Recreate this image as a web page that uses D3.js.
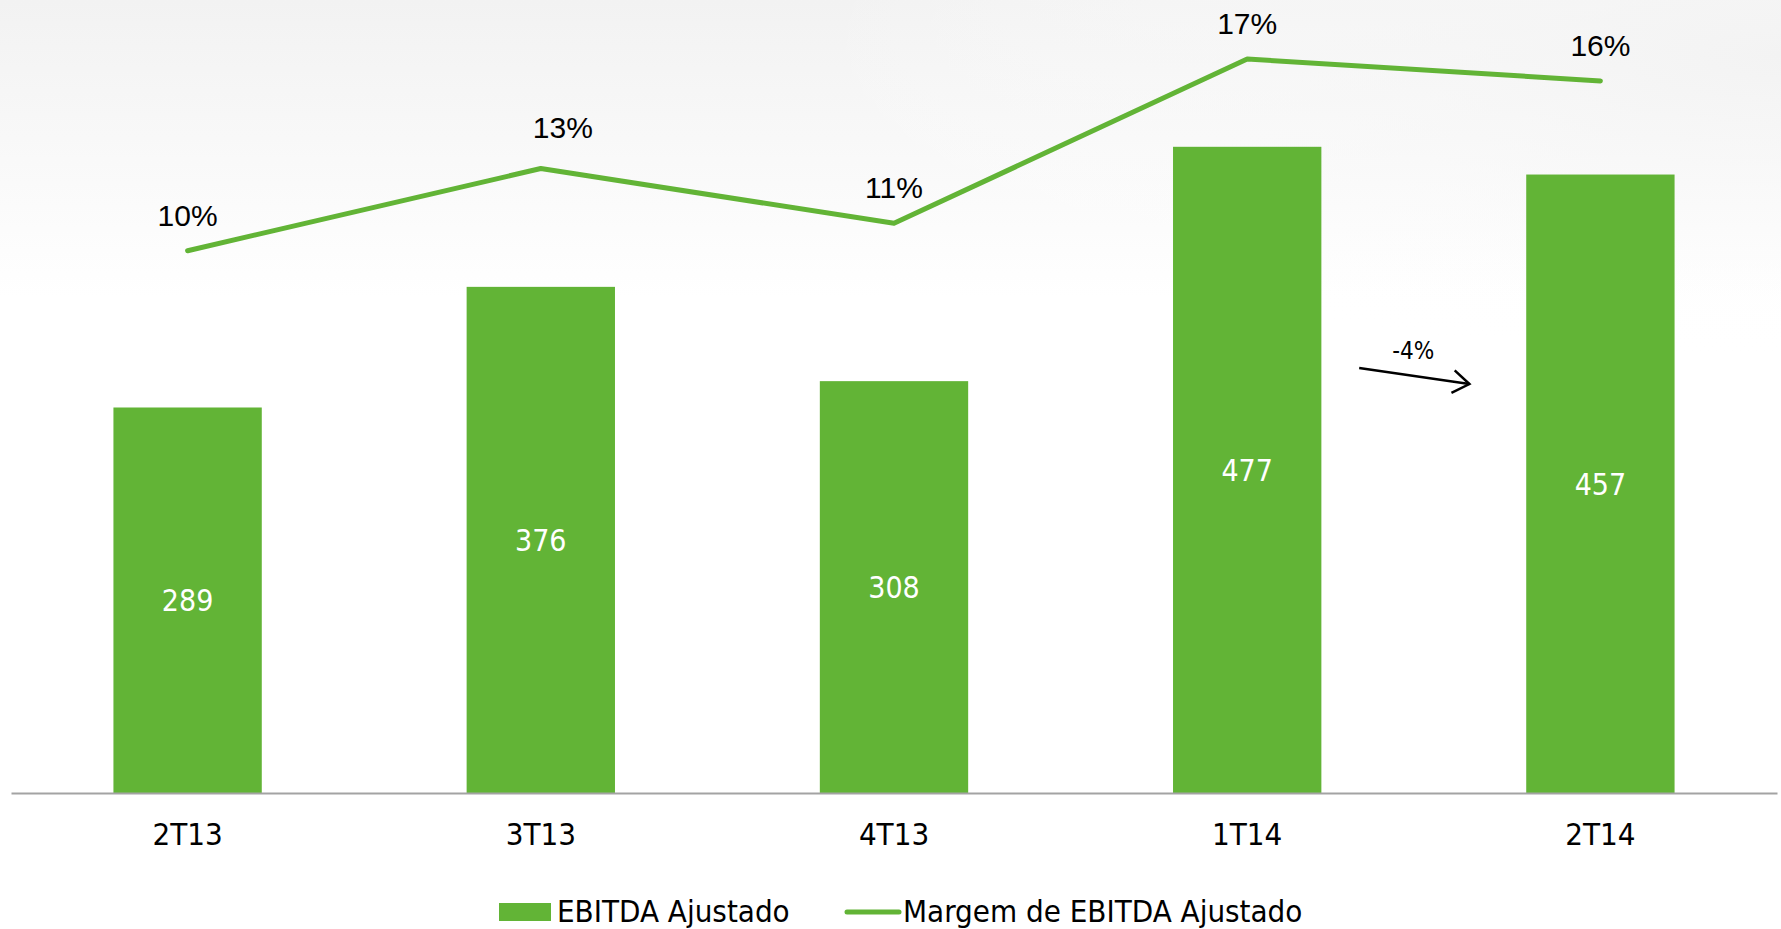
<!DOCTYPE html>
<html>
<head>
<meta charset="utf-8">
<script src="https://cdn.jsdelivr.net/npm/d3@7"></script>
<style>
  body { margin: 0; background: #fff; }
  svg { display: block; }
</style>
</head>
<body>
<svg id="chart" width="1781" height="929"></svg>
<script>
// data
const quarters = ['2T13', '3T13', '4T13', '1T14', '2T14'];
const ebitda = [289, 376, 308, 477, 457];
const margin = [10.0, 13.0, 11.0, 17.0, 16.2];
const marginLabels = ['10%', '13%', '11%', '17%', '16%'];
const legendLabels = ['EBITDA Ajustado', 'Margem de EBITDA Ajustado'];
const variationLabel = '-4%';

const green = '#62b436';
const W = 1781, H = 929;
const baseY = 793;

const svg = d3.select('#chart');

// soft grey backdrop fading to white
const defs = svg.append('defs');
const lg = defs.append('linearGradient').attr('id', 'bgv')
  .attr('x1', 0).attr('y1', 0).attr('x2', 0).attr('y2', 1);
lg.append('stop').attr('offset', '0%').attr('stop-color', '#f2f2f2');
lg.append('stop').attr('offset', '32%').attr('stop-color', '#ffffff');
const rg = defs.append('radialGradient').attr('id', 'bgr')
  .attr('cx', 1.0).attr('cy', 0.1).attr('r', 0.55);
rg.append('stop').attr('offset', '0%').attr('stop-color', '#f3f3f3').attr('stop-opacity', 1);
rg.append('stop').attr('offset', '100%').attr('stop-color', '#ffffff').attr('stop-opacity', 0);

svg.append('rect').attr('width', W).attr('height', H).attr('fill', 'url(#bgv)');
svg.append('rect').attr('width', W).attr('height', H * 0.6).attr('fill', 'url(#bgr)');

const x = d3.scaleBand()
  .domain(quarters)
  .range([11, 1777])
  .paddingInner(0.58)
  .paddingOuter(0.29);

// bars sit on an axis that does not start at zero
const y = d3.scaleLinear().domain([11, 500]).range([baseY, baseY - 489 * 1.3867]);
const yM = d3.scaleLinear().domain([10, 17]).range([250.7, 59]);

const rows = quarters.map((q, i) => ({ q, v: ebitda[i], m: margin[i], ml: marginLabels[i] }));

// bars
svg.append('g').selectAll('rect')
  .data(rows)
  .join('rect')
  .attr('x', d => x(d.q))
  .attr('y', d => y(d.v))
  .attr('width', x.bandwidth())
  .attr('height', d => y(11) - y(d.v))
  .attr('fill', green);

svg.append('g').selectAll('text')
  .data(rows)
  .join('text')
  .attr('x', d => x(d.q) + x.bandwidth() / 2)
  .attr('y', d => (y(d.v) + y(11)) / 2)
  .attr('dy', '0.36em')
  .attr('text-anchor', 'middle')
  .attr('fill', '#fff')
  .style('font-family', '"DejaVu Sans Condensed", "DejaVu Sans", sans-serif')
  .style('font-stretch', 'condensed')
  .style('font-size', '30px')
  .text(d => d.v);

// x axis
const xAxis = svg.append('g')
  .attr('transform', `translate(0,${baseY})`)
  .call(d3.axisBottom(x).tickSize(0).tickPadding(30));
xAxis.select('.domain').attr('stroke', '#a3a3a3').attr('stroke-width', 2);
xAxis.selectAll('text')
  .attr('fill', '#000')
  .style('font-family', '"DejaVu Sans Condensed", "DejaVu Sans", sans-serif')
  .style('font-stretch', 'condensed')
  .style('font-size', '31px');

// margin line
const line = d3.line()
  .x(d => x(d.q) + x.bandwidth() / 2)
  .y(d => yM(d.m));

svg.append('path')
  .datum(rows)
  .attr('d', line)
  .attr('fill', 'none')
  .attr('stroke', green)
  .attr('stroke-width', 5)
  .attr('stroke-linecap', 'round')
  .attr('stroke-linejoin', 'round');

svg.append('g').selectAll('text')
  .data(rows)
  .join('text')
  .attr('x', (d, i) => x(d.q) + x.bandwidth() / 2 + (i === 1 ? 22 : 0))
  .attr('y', (d, i) => yM(d.m) - (i === 1 ? 31 : 25))
  .attr('text-anchor', 'middle')
  .attr('fill', '#000')
  .style('font-family', '"Liberation Sans Narrow", "Arial Narrow", sans-serif')
  .style('font-size', '30px')
  .text(d => d.ml);

// growth arrow between the last two quarters
const ax1 = x('1T14') + x.bandwidth() / 2 + 112;
const ax2 = x('2T14') + x.bandwidth() / 2 - 131;
const ay1 = 368, ay2 = 384;
const ang = Math.atan2(ay2 - ay1, ax2 - ax1);
const head = 20, spread = 0.6;
const arrow = svg.append('g').attr('fill', 'none').attr('stroke', '#000').attr('stroke-width', 2.5);
arrow.append('line').attr('x1', ax1).attr('y1', ay1).attr('x2', ax2).attr('y2', ay2);
arrow.append('path')
  .attr('d', d3.line()([
    [ax2 - head * Math.cos(ang - spread), ay2 - head * Math.sin(ang - spread)],
    [ax2, ay2],
    [ax2 - head * Math.cos(ang + spread), ay2 - head * Math.sin(ang + spread)]
  ]));
svg.append('text')
  .attr('x', (ax1 + ax2) / 2 - 1)
  .attr('y', 359)
  .attr('text-anchor', 'middle')
  .attr('fill', '#000')
  .style('font-family', '"DejaVu Sans Condensed", "DejaVu Sans", sans-serif')
  .style('font-stretch', 'condensed')
  .style('font-size', '24px')
  .text(variationLabel);

// legend
const leg = svg.append('g')
  .style('font-family', '"DejaVu Sans Condensed", "DejaVu Sans", sans-serif')
  .style('font-stretch', 'condensed')
  .style('font-size', '31px')
  .attr('fill', '#000');
leg.append('rect').attr('x', 499).attr('y', 903).attr('width', 52).attr('height', 18).attr('fill', green);
leg.append('text').attr('x', 557).attr('y', 921.5).text(legendLabels[0]);
leg.append('line').attr('x1', 847).attr('x2', 899).attr('y1', 912).attr('y2', 912)
  .attr('stroke', green).attr('stroke-width', 5).attr('stroke-linecap', 'round');
leg.append('text').attr('x', 903).attr('y', 921.5).text(legendLabels[1]);
</script>
</body>
</html>
